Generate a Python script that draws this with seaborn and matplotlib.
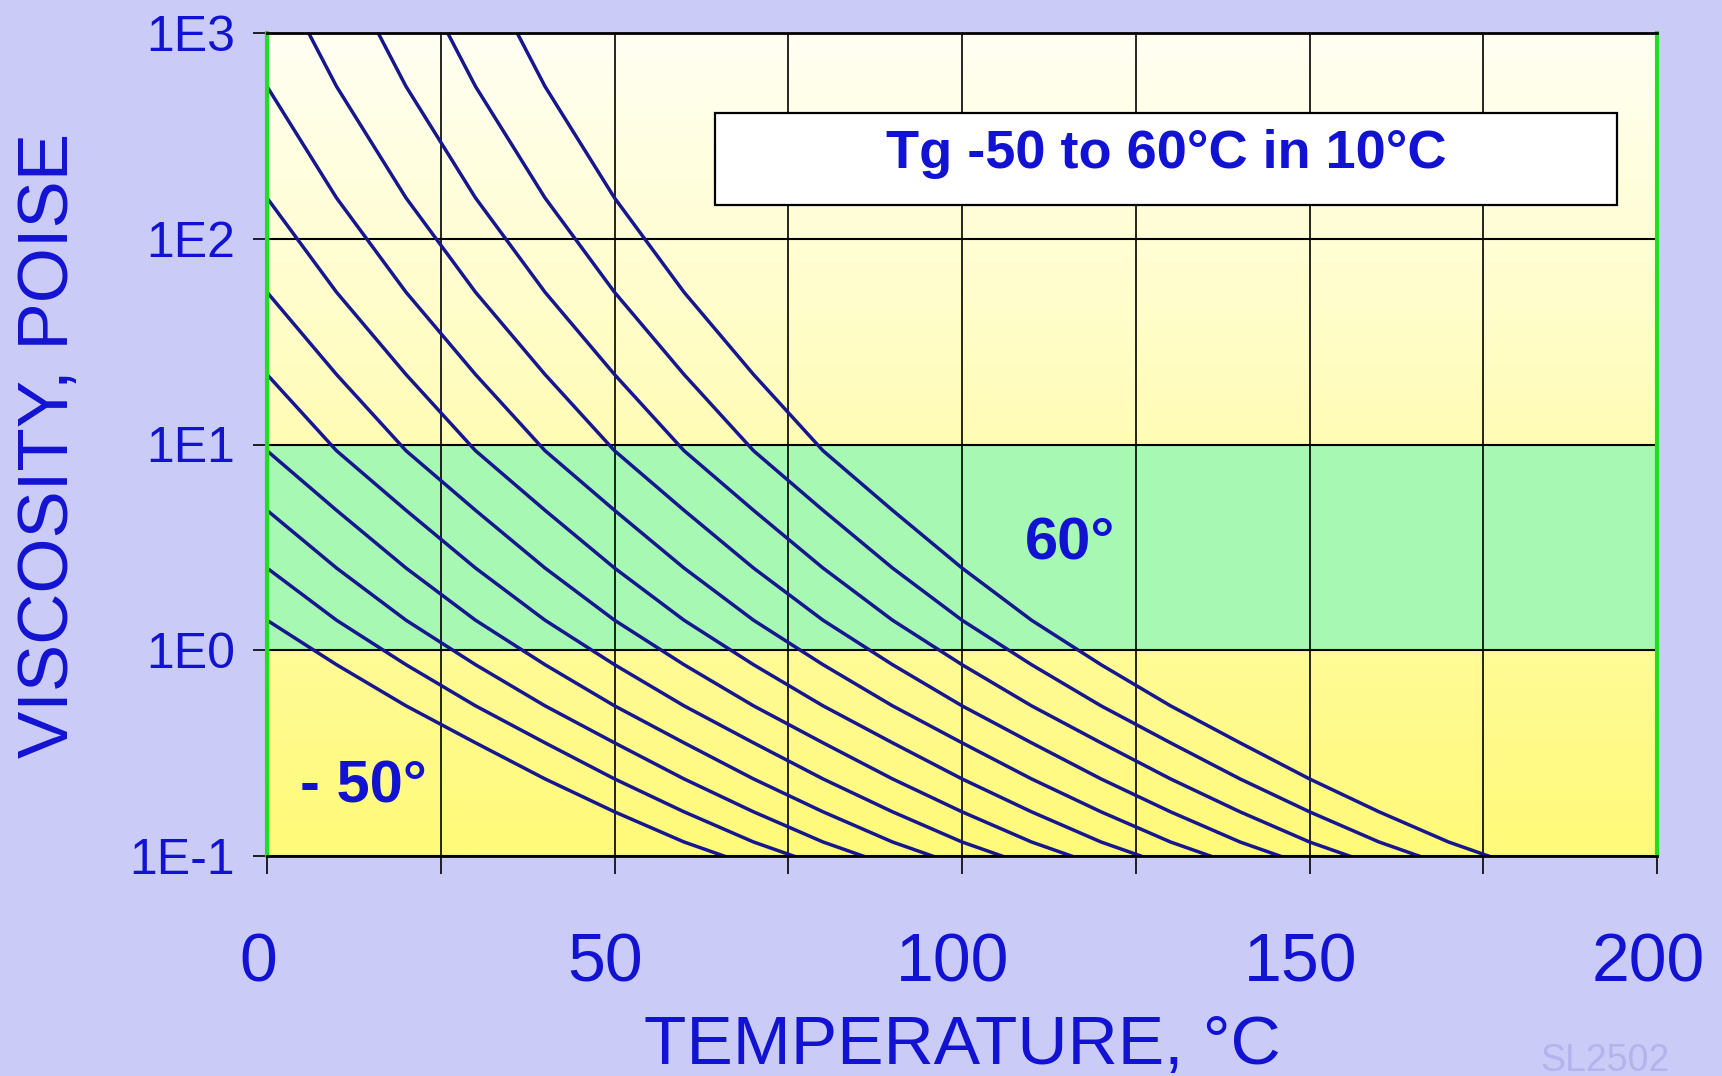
import numpy as np
import pandas as pd
import matplotlib
matplotlib.use("Agg")
import matplotlib.pyplot as plt
import matplotlib.transforms as mtransforms
import seaborn as sns
from matplotlib.patches import Rectangle
from matplotlib.ticker import FixedLocator, NullLocator

nan = np.nan

# ---------------- data ----------------
temperature = [0, 10, 20, 30, 40, 50, 60, 70, 80, 90, 100, 110, 120, 130, 140, 150, 160, 170, 180]
tg_values = [-50, -40, -30, -20, -10, 0, 10, 20, 30, 40, 50, 60]

visc_tg_m50 = [1.40, 0.851, 0.537, 0.355, 0.237, 0.164, 0.117, 0.089, nan, nan, nan, nan, nan, nan, nan, nan, nan, nan, nan]
visc_tg_m40 = [2.51, 1.40, 0.851, 0.537, 0.355, 0.237, 0.164, 0.117, 0.089, nan, nan, nan, nan, nan, nan, nan, nan, nan, nan]
visc_tg_m30 = [4.79, 2.51, 1.40, 0.851, 0.537, 0.355, 0.237, 0.164, 0.117, 0.089, nan, nan, nan, nan, nan, nan, nan, nan, nan]
visc_tg_m20 = [9.33, 4.79, 2.51, 1.40, 0.851, 0.537, 0.355, 0.237, 0.164, 0.117, 0.089, nan, nan, nan, nan, nan, nan, nan, nan]
visc_tg_m10 = [21.9, 9.33, 4.79, 2.51, 1.40, 0.851, 0.537, 0.355, 0.237, 0.164, 0.117, 0.089, nan, nan, nan, nan, nan, nan, nan]
visc_tg_0 = [55.0, 21.9, 9.33, 4.79, 2.51, 1.40, 0.851, 0.537, 0.355, 0.237, 0.164, 0.117, 0.089, nan, nan, nan, nan, nan, nan]
visc_tg_10 = [158, 55.0, 21.9, 9.33, 4.79, 2.51, 1.40, 0.851, 0.537, 0.355, 0.237, 0.164, 0.117, 0.089, nan, nan, nan, nan, nan]
visc_tg_20 = [550, 158, 55.0, 21.9, 9.33, 4.79, 2.51, 1.40, 0.851, 0.537, 0.355, 0.237, 0.164, 0.117, 0.089, nan, nan, nan, nan]
visc_tg_30 = [2450, 550, 158, 55.0, 21.9, 9.33, 4.79, 2.51, 1.40, 0.851, 0.537, 0.355, 0.237, 0.164, 0.117, 0.089, nan, nan, nan]
visc_tg_40 = [nan, 2450, 550, 158, 55.0, 21.9, 9.33, 4.79, 2.51, 1.40, 0.851, 0.537, 0.355, 0.237, 0.164, 0.117, 0.089, nan, nan]
visc_tg_50 = [nan, nan, 2450, 550, 158, 55.0, 21.9, 9.33, 4.79, 2.51, 1.40, 0.851, 0.537, 0.355, 0.237, 0.164, 0.117, 0.089, nan]
visc_tg_60 = [nan, nan, nan, 2450, 550, 158, 55.0, 21.9, 9.33, 4.79, 2.51, 1.40, 0.851, 0.537, 0.355, 0.237, 0.164, 0.117, 0.089]

all_curves = [visc_tg_m50, visc_tg_m40, visc_tg_m30, visc_tg_m20, visc_tg_m10, visc_tg_0,
              visc_tg_10, visc_tg_20, visc_tg_30, visc_tg_40, visc_tg_50, visc_tg_60]

y_ticks = [0.1, 1, 10, 100, 1000]
y_tick_labels = ["1E-1", "1E0", "1E1", "1E2", "1E3"]
x_major_ticks = [0, 50, 100, 150, 200]
x_tick_labels = ["0", "50", "100", "150", "200"]
x_minor_ticks = [25, 75, 125, 175]

box_text = "Tg -50 to 60°C in 10°C"
label_high = "60°"
label_low = "- 50°"
x_label = "TEMPERATURE, °C"
y_label = "VISCOSITY, POISE"
watermark = "SL2502"

# ---------------- build long table ----------------
rows = []
for tg, visc in zip(tg_values, all_curves):
    for t, v in zip(temperature, visc):
        rows.append({"T": t, "V": v, "Tg": tg})
df = pd.DataFrame(rows).dropna()

# ---------------- style ----------------
BG = "#cbcbf8"
TEXT_BLUE = "#1212d2"
LINE_BLUE = "#16168e"
GREEN_BAND = "#a7f8b3"
FRAME_GREEN = "#22dd22"

sns.set_theme(style="white")
plt.rcParams["font.family"] = ["Liberation Sans", "DejaVu Sans"]

W, H = 1722, 1076
fig = plt.figure(figsize=(W / 100, H / 100), dpi=100, facecolor=BG)
left, right, top, bottom = 267, 1657, 33, 856
ax = fig.add_axes([left / W, 1 - bottom / H, (right - left) / W, (bottom - top) / H])
ax.set_facecolor("#fffde0")

# gradient background
g = np.linspace(0, 1, 256)[:, None, None]
c_top = np.array([255, 255, 243]) / 255
c_bot = np.array([255, 250, 120]) / 255
img = c_top * (1 - g) + c_bot * g
ax.imshow(img, extent=[0, 1, 0, 1], transform=ax.transAxes, aspect="auto",
          origin="upper", zorder=0, interpolation="bilinear")

ax.set_yscale("log")
ax.axhspan(1, 10, color=GREEN_BAND, zorder=0.3, lw=0)

sns.lineplot(data=df, x="T", y="V", units="Tg", estimator=None, sort=False,
             color=LINE_BLUE, lw=2.5, ax=ax, zorder=2)

ax.set_xlim(0, 200)
ax.set_ylim(0.1, 1000)

ax.xaxis.set_major_locator(FixedLocator(x_major_ticks))
ax.xaxis.set_minor_locator(FixedLocator(x_minor_ticks))
ax.set_xticklabels(x_tick_labels)
ax.yaxis.set_major_locator(FixedLocator(y_ticks))
ax.yaxis.set_minor_locator(NullLocator())
ax.set_yticklabels(y_tick_labels)

ax.set_axisbelow(True)
ax.grid(which="both", axis="x", color="black", lw=1.2)
ax.grid(which="major", axis="y", color="black", lw=1.5)

ax.tick_params(axis="y", which="major", direction="out", length=10, width=1.2,
               color="black", pad=13, labelsize=36, labelcolor=TEXT_BLUE, left=True)
ax.tick_params(axis="x", which="both", direction="out", length=13, width=1.2,
               color="black", pad=41, labelsize=49, labelcolor=TEXT_BLUE, bottom=True)

# reference tick labels sit slightly left of their ticks
shift = mtransforms.ScaledTranslation(-9 / 100, 0, fig.dpi_scale_trans)
for lab in ax.get_xticklabels():
    lab.set_transform(lab.get_transform() + shift)

for s in ["left", "right"]:
    ax.spines[s].set_color(FRAME_GREEN)
    ax.spines[s].set_linewidth(3)
for s in ["top", "bottom"]:
    ax.spines[s].set_color("black")
    ax.spines[s].set_linewidth(2)

ax.set_xlabel("")
ax.set_ylabel("")

# text box
ax.add_patch(Rectangle((0.322, 0.791), 0.649, 0.112, transform=ax.transAxes,
                       facecolor="white", edgecolor="black", lw=1.6, zorder=3))
ax.text(0.647, 0.836, box_text, transform=ax.transAxes, ha="center", va="baseline",
        fontsize=39, fontweight="bold", color=TEXT_BLUE, zorder=4)

ax.text(109, 2.75, label_high, ha="left", va="baseline", fontsize=43,
        fontweight="bold", color=TEXT_BLUE, zorder=4)
ax.text(4.8, 0.183, label_low, ha="left", va="baseline", fontsize=43,
        fontweight="bold", color=TEXT_BLUE, zorder=4)

# axis titles
fig.text(50 / W, 1 - 445 / H, y_label, rotation=90, ha="center", va="center",
         fontsize=51, color=TEXT_BLUE)
fig.text(962 / W, 1 - 1064 / H, x_label, ha="center", va="baseline",
         fontsize=50, color=TEXT_BLUE)
fig.text(1540 / W, 1 - 1043 / H, watermark, ha="left", va="top",
         fontsize=27, color="#b4b4ec")

fig.savefig("out.png", dpi=100, facecolor=BG)
